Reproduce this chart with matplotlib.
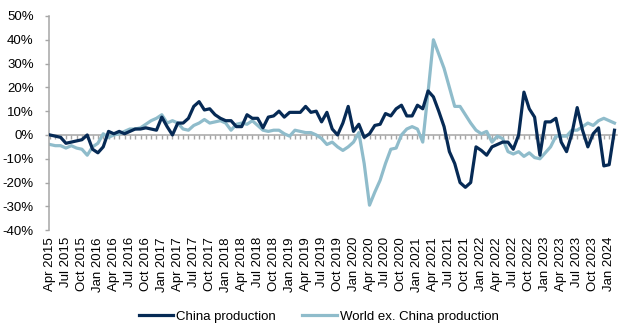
import matplotlib
matplotlib.use("Agg")
import matplotlib.pyplot as plt
import pandas as pd

# Monthly categories, Apr 2015 - Feb 2024
months = pd.date_range("2015-04-01", "2024-02-01", freq="MS")
month_labels = [d.strftime("%b %Y") for d in months]

# Year-on-year change in production, %
china_production = [
    0, -0.5, -1, -3.5, -3, -2.5, -2, 0, -6, -7.5,
    -5, 1.5, 0.5, 1.5, 0.5, 1.5, 2.5, 2.5, 3, 2.5,
    2, 7.5, 3.5, 0, 5, 5, 7, 12, 14, 10.5,
    11, 8.5, 7, 6, 6, 3.5, 3.5, 8.5, 7, 7,
    3, 7.5, 8, 10, 7.5, 9.5, 9.5, 9.5, 12, 9.5,
    10, 5.5, 9.5, 2.5, 0, 5, 12, 1.5, 4.5, -1,
    0.5, 4, 4.5, 9, 8, 11, 12.5, 8, 8, 12.5,
    11, 18.5, 16, 10, 3.5, -7, -12, -20, -22, -20,
    -5, -6.5, -8.5, -5, -4, -3, -3, -6, 0, 18,
    11, 7.5, -8.5, 5.5, 5.5, 7, -3, -7, 0.5, 11.5,
    2, -5, 0.5, 3, -13, -12.5, 2,
]
world_ex_china_production = [
    -4, -4.5, -4.5, -5.5, -4.5, -5.5, -6, -8.5, -5, -3.5,
    0.5, -1, 0, 0.5, 1.5, 2.5, 2.5, 3, 4.5, 6,
    7, 8.5, 5, 6, 5, 2.5, 2, 4, 5, 6.5,
    5, 5.5, 6, 5, 2, 4.5, 5, 4.5, 6, 4,
    2, 1.5, 2, 2, 0.5, -0.5, 2, 1.5, 1, 1,
    0, -1.5, -4, -3, -5, -6.5, -5, -3, 1, -12,
    -29.5, -24, -19, -12, -6, -5.5, 0, 2.5, 3.5, 2.5,
    -3, 18, 40, 34, 28, 20, 12, 12, 8.5, 5,
    2, 0.5, 1.5, -3, -0.5, -1.5, -7, -8, -7, -9,
    -7.5, -9.5, -10, -7.5, -5, -0.5, -0.5, -0.5, 2, 2,
    3.5, 5, 4, 6, 7, 6, 5,
]
series_names = ["China production", "World ex. China production"]
y_ticks = list(range(-40, 51, 10))

DARK = "#062a55"
LIGHT = "#8fbccb"
GRID_GREY = "#a6a6a6"

plt.rcParams["font.family"] = ["Liberation Sans", "DejaVu Sans"]
plt.rcParams["font.size"] = 9.5

fig = plt.figure(figsize=(6.19, 3.26), dpi=100)
ax = fig.add_axes([0.079, 0.294, 0.918, 0.657])

x = list(range(len(months)))
ax.plot(x, china_production, color=DARK, lw=2.3, solid_joinstyle="round",
        label=series_names[0], zorder=3)
ax.plot(x, world_ex_china_production, color=LIGHT, lw=2.3, solid_joinstyle="round",
        label=series_names[1], zorder=2)

ax.set_xlim(-0.2, len(months) - 0.5)
ax.set_ylim(-40, 50)

# y axis
ax.set_yticks(y_ticks)
ax.set_yticklabels([f"{v}%" for v in y_ticks])
ax.tick_params(axis="y", length=3, width=1, color=GRID_GREY, pad=8,
               labelcolor="black")

# category axis sits on the zero line; labels hang below the plot area
for side in ("top", "right"):
    ax.spines[side].set_visible(False)
ax.spines["left"].set_color(GRID_GREY)
ax.spines["left"].set_linewidth(1.1)
ax.spines["bottom"].set_position(("data", 0))
ax.spines["bottom"].set_color(GRID_GREY)
ax.spines["bottom"].set_linewidth(1.1)
ax.spines["bottom"].set_zorder(1)

ax.set_xticks(x, minor=True)
ax.set_xticks(x[::3])
ax.set_xticklabels(month_labels[::3], rotation=90)
ax.tick_params(axis="x", which="both", direction="out", length=3, width=1,
               color=GRID_GREY)
ax.tick_params(axis="x", which="major", pad=70.5)

fig.legend(loc="center", bbox_to_anchor=(0.515, 0.028), ncol=2, frameon=False,
           handlelength=2.6, handletextpad=0.25, columnspacing=2.0,
           borderaxespad=0)

fig.savefig("out.png", dpi=100)
